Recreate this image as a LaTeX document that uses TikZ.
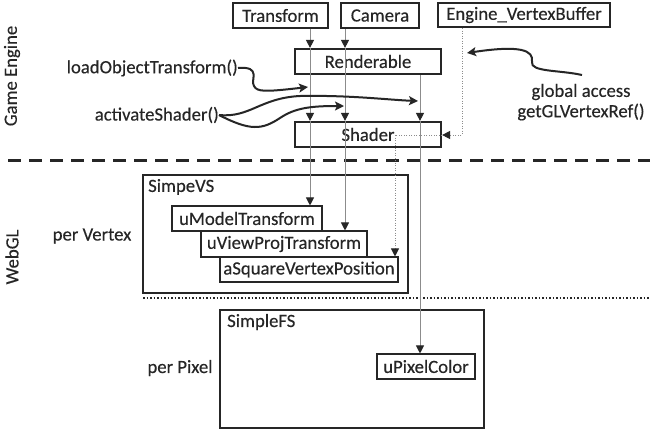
\documentclass[tikz,border=0pt]{standalone}
\usepackage{fontspec}
\setmainfont{Carlito}[FakeBold=0.3]
\usetikzlibrary{arrows.meta}
\begin{document}
\begin{tikzpicture}[x=1pt,y=-1pt,
  every node/.style={font=\fontsize{18.7}{22}\selectfont, text=black!85, inner sep=0pt},
  topbox/.style={draw=black!85, line width=2.2pt},
  innerbox/.style={draw=black!85, line width=1.1pt},
  bigbox/.style={draw=black!85, line width=2.5pt},
  feed/.style={draw=black!45, line width=1pt, -{Triangle[width=8pt,length=8pt,color=black!85]}},
  dotfeed/.style={draw=black!45, line width=1pt, dash pattern=on 1pt off 1.5pt},
  call/.style={draw=black!85, line width=2pt, -{Stealth[width=9pt,length=9pt,inset=2pt]}}]
\useasboundingbox (0,0) rectangle (650,432);
\fill[white] (0,0) rectangle (650,432);
% top boxes
\node[topbox, minimum width=95pt, minimum height=25pt] (T) at (280.5,15.5) {Transform};
\node[topbox, minimum width=78pt, minimum height=25pt] (C) at (380,15.5) {Camera};
\node[topbox, minimum width=172pt, minimum height=24pt] (E) at (524,15) {Engine\_VertexBuffer};
\node[topbox, minimum width=146pt, minimum height=25pt] (R) at (368,61.5) {Renderable};
\node[topbox, minimum width=146pt, minimum height=25pt] (S) at (368,134.5) {Shader};
% WebGL boxes
\node[bigbox, minimum width=265pt, minimum height=118pt] (vs) at (275.5,234) {};
\node[anchor=west] (vsl) at (148,187) {SimpeVS};
\node[innerbox, minimum width=150pt, minimum height=25pt] (um) at (247,218.5) {uModelTransform};
\node[innerbox, minimum width=166pt, minimum height=26pt] (uv) at (284,244) {uViewProjTransform};
\node[innerbox, minimum width=178pt, minimum height=25pt] (as) at (309,269.5) {aSquareVertexPosition};
\node[bigbox, minimum width=264pt, minimum height=118pt] (fs) at (352,369) {};
\node[anchor=west] (fsl) at (227,322) {SimpleFS};
\node[innerbox, minimum width=98pt, minimum height=25pt] (pc) at (426,366.5) {uPixelColor};
% labels
\node[rotate=90] (ge) at (12,76) {Game Engine};
\node[rotate=90] (wg) at (12,257) {WebGL};
\node (pv) at (92,236) {per Vertex};
\node (pp) at (180,368) {per Pixel};
\node[anchor=east] (lo) at (238,68) {loadObjectTransform()};
\node[anchor=east] (ac) at (219,115) {activateShader()};
\node (ga) at (581,92) {global access};
\node (gv) at (581,112) {getGLVertexRef()};
% x positions of the feeds
\coordinate (xT) at (310,0);
\coordinate (xC) at (345,0);
\coordinate (xR) at (420,0);
\coordinate (xE) at (462,0);
\coordinate (xA) at (395,0);
\coordinate (yE) at (0,135);
% separators
\draw[black!85, line width=3pt, dash pattern=on 13pt off 8pt] (8,160) -- (650,160);
\draw[black!85, line width=2pt, dash pattern=on 1.5pt off 2pt] (143,298) -- (650,298);
% Transform feed
\draw[feed] (xT |- T.south) -- (xT |- R.north);
\draw[feed] (xT |- R.north) -- (xT |- S.north);
\draw[feed] (xT |- S.north) -- (xT |- um.north);
% Camera feed
\draw[feed] (xC |- C.south) -- (xC |- R.north);
\draw[feed] (xC |- R.north) -- (xC |- S.north);
\draw[feed] (xC |- S.north) -- (xC |- uv.north);
% Renderable colour feed
\draw[feed] (xR |- R.south) -- (xR |- S.north);
\draw[feed] (xR |- S.north) -- (xR |- pc.north);
% vertex buffer
\coordinate (eC) at (xE |- yE);
\coordinate (sC) at (xA |- yE);
\draw[dotfeed, -{Triangle[width=8pt,length=8pt,color=black!85]}] (xE |- E.south) -- (eC) -- (S.east |- yE);
\draw[dotfeed, -{Triangle[width=8pt,length=8pt,color=black!85]}] (S.east |- yE) -- (sC) -- (xA |- as.north);
% calls
\draw[call] (lo.east) .. controls (262,66) and (250,80) .. (254,86) .. controls (257,92) and (265,92) .. (308,87);
\draw[call] (ac.east) .. controls (250,118) and (260,98) .. (300,96) .. controls (350,95) and (390,100) .. (418,101);
\draw[call] (ac.east) .. controls (250,131) and (262,130) .. (280,118) .. controls (295,108) and (310,106) .. (344,106);
\coordinate (gaT) at (582,75);
\draw[call] (gaT) .. controls (560,70) and (530,72) .. (532,62) .. controls (534,50) and (520,45) .. (467,53);
\end{tikzpicture}
\end{document}
